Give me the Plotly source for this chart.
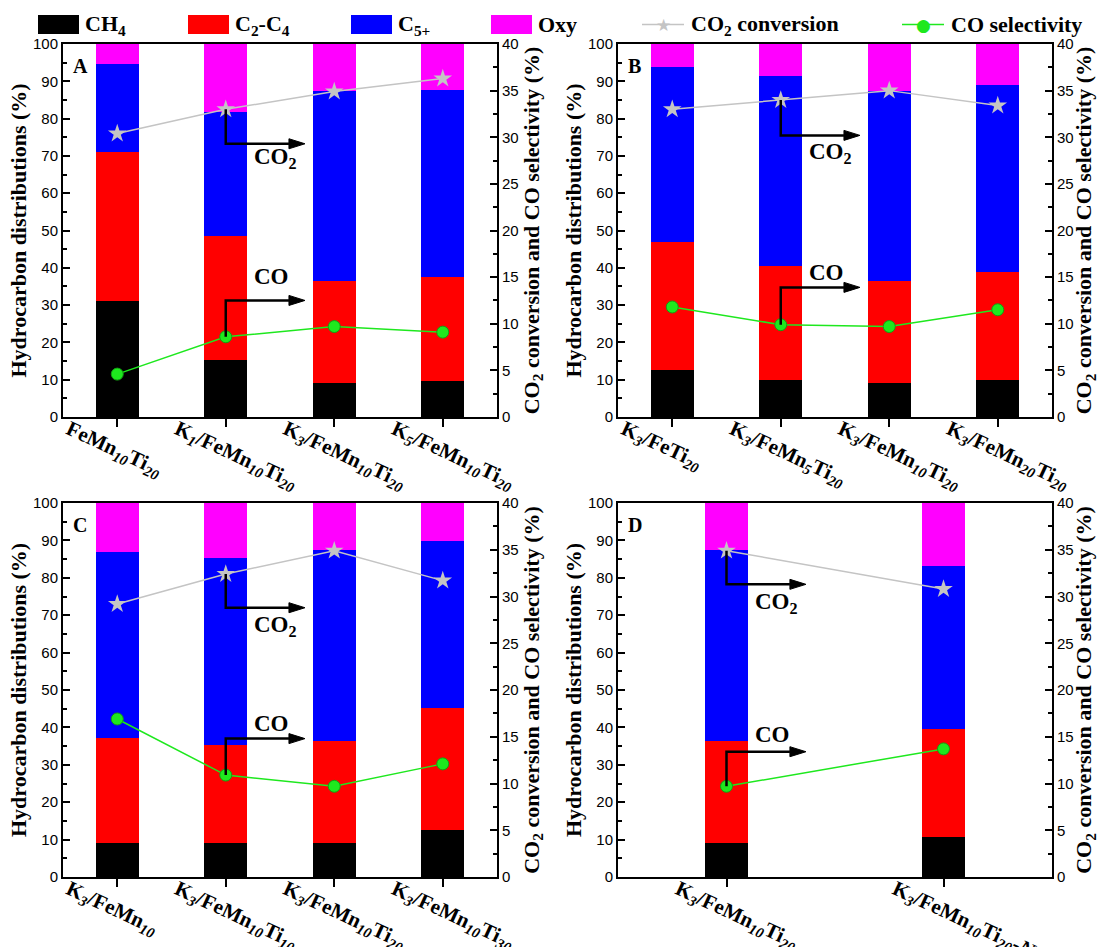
import plotly.graph_objects as go
from plotly.subplots import make_subplots

# ---------------- data ----------------
labels_a = ["FeMn<sub><i>10</i></sub>Ti<sub><i>20</i></sub>",
            "K<sub><i>1</i></sub>/FeMn<sub><i>10</i></sub>Ti<sub><i>20</i></sub>",
            "K<sub><i>3</i></sub>/FeMn<sub><i>10</i></sub>Ti<sub><i>20</i></sub>",
            "K<sub><i>5</i></sub>/FeMn<sub><i>10</i></sub>Ti<sub><i>20</i></sub>"]
ch4_a = [31.2, 15.4, 9.1, 9.6]
c2c4_a = [39.8, 33.0, 27.4, 28.0]
c5_a = [23.6, 33.5, 51.0, 50.1]
oxy_a = [5.4, 18.1, 12.5, 12.3]
co2_conv_a = [30.4, 33.0, 34.9, 36.3]
co_sel_a = [4.6, 8.6, 9.7, 9.1]

labels_b = ["K<sub><i>3</i></sub>/FeTi<sub><i>20</i></sub>",
            "K<sub><i>3</i></sub>/FeMn<sub><i>5</i></sub>Ti<sub><i>20</i></sub>",
            "K<sub><i>3</i></sub>/FeMn<sub><i>10</i></sub>Ti<sub><i>20</i></sub>",
            "K<sub><i>3</i></sub>/FeMn<sub><i>20</i></sub>Ti<sub><i>20</i></sub>"]
ch4_b = [12.5, 10.0, 9.1, 10.0]
c2c4_b = [34.5, 30.5, 27.4, 28.8]
c5_b = [46.9, 50.8, 51.0, 50.2]
oxy_b = [6.1, 8.7, 12.5, 11.0]
co2_conv_b = [33.0, 34.0, 35.0, 33.4]
co_sel_b = [11.8, 9.9, 9.7, 11.5]

labels_c = ["K<sub><i>3</i></sub>/FeMn<sub><i>10</i></sub>",
            "K<sub><i>3</i></sub>/FeMn<sub><i>10</i></sub>Ti<sub><i>10</i></sub>",
            "K<sub><i>3</i></sub>/FeMn<sub><i>10</i></sub>Ti<sub><i>20</i></sub>",
            "K<sub><i>3</i></sub>/FeMn<sub><i>10</i></sub>Ti<sub><i>30</i></sub>"]
ch4_c = [9.2, 9.2, 9.1, 12.5]
c2c4_c = [28.0, 26.2, 27.3, 32.7]
c5_c = [49.8, 49.9, 51.0, 44.6]
oxy_c = [13.0, 14.7, 12.6, 10.2]
co2_conv_c = [29.2, 32.4, 34.9, 31.7]
co_sel_c = [16.9, 10.9, 9.7, 12.1]

labels_d = ["K<sub><i>3</i></sub>/FeMn<sub><i>10</i></sub>Ti<sub><i>20</i></sub>",
            "K<sub><i>3</i></sub>/FeMn<sub><i>10</i></sub>Ti<sub><i>20</i></sub>-<i>N</i>"]
ch4_d = [9.1, 10.6]
c2c4_d = [27.3, 29.1]
c5_d = [51.0, 43.5]
oxy_d = [12.6, 16.8]
co2_conv_d = [34.9, 30.8]
co_sel_d = [9.7, 13.7]

series_names = ["CH<sub>4</sub>", "C<sub>2</sub>-C<sub>4</sub>", "C<sub>5+</sub>", "Oxy"]
series_colors = ["#000000", "#ff0000", "#0000ff", "#ff00ff"]
CONV_COLOR = "#c4c4c4"
SEL_COLOR = "#1ee81e"

# ---------------- layout geometry ----------------
W, H = 1099, 947
col_px = [(63, 497), (618, 1052)]
row_px = [(44, 417), (503, 877)]
SERIF = "Liberation Serif"
SANS = "Liberation Sans"

panels = [
    dict(letter="A", labels=labels_a, stacks=[ch4_a, c2c4_a, c5_a, oxy_a],
         conv=co2_conv_a, sel=co_sel_a, width=0.4, cat=1,
         co2_elbow=29.3, co_elbow=12.5, arrow_end=1.73,
         co2_text=(1.457, 27.8), co_text=(1.418, 15.1)),
    dict(letter="B", labels=labels_b, stacks=[ch4_b, c2c4_b, c5_b, oxy_b],
         conv=co2_conv_b, sel=co_sel_b, width=0.4, cat=1,
         co2_elbow=30.2, co_elbow=13.9, arrow_end=1.73,
         co2_text=(1.46, 28.3), co_text=(1.42, 15.5)),
    dict(letter="C", labels=labels_c, stacks=[ch4_c, c2c4_c, c5_c, oxy_c],
         conv=co2_conv_c, sel=co_sel_c, width=0.4, cat=1,
         co2_elbow=28.8, co_elbow=14.8, arrow_end=1.73,
         co2_text=(1.457, 26.8), co_text=(1.418, 16.4)),
    dict(letter="D", labels=labels_d, stacks=[ch4_d, c2c4_d, c5_d, oxy_d],
         conv=co2_conv_d, sel=co_sel_d, width=0.195, cat=0,
         co2_elbow=31.3, co_elbow=13.4, arrow_end=0.366,
         co2_text=(0.23, 29.3), co_text=(0.21, 15.2)),
]

fig = make_subplots(rows=2, cols=2, specs=[[{"secondary_y": True}] * 2] * 2)

shapes = []
annotations = []

for i, p in enumerate(panels):
    r, c = divmod(i, 2)
    n = len(p["labels"])
    xs = list(range(n))
    for name, color, vals in zip(series_names, series_colors, p["stacks"]):
        fig.add_trace(go.Bar(x=xs, y=vals, name=name, marker_color=color,
                             marker_line_width=0, width=p["width"], showlegend=False),
                      row=r + 1, col=c + 1, secondary_y=False)
    fig.add_trace(go.Scatter(x=xs, y=p["conv"], mode="lines+markers", name="CO<sub>2</sub> conversion",
                             line=dict(color=CONV_COLOR, width=1.5),
                             marker=dict(symbol="star", size=14, color=CONV_COLOR),
                             showlegend=False),
                  row=r + 1, col=c + 1, secondary_y=True)
    fig.add_trace(go.Scatter(x=xs, y=p["sel"], mode="lines+markers", name="CO selectivity",
                             line=dict(color=SEL_COLOR, width=1.5),
                             marker=dict(symbol="circle", size=12, color=SEL_COLOR,
                                         line=dict(color="#12a012", width=1)),
                             showlegend=False),
                  row=r + 1, col=c + 1, secondary_y=True)

    xname = "xaxis" if i == 0 else f"xaxis{i + 1}"
    y1name = "yaxis" if i == 0 else f"yaxis{2 * i + 1}"
    y2name = f"yaxis{2 * i + 2}"
    xref = "x" if i == 0 else f"x{i + 1}"
    yref2 = f"y{2 * i + 2}"

    x0, x1 = col_px[c]
    y0, y1 = row_px[r]
    xdom = [x0 / W, x1 / W]
    ydom = [1 - y1 / H, 1 - y0 / H]

    fig.layout[xname].update(
        domain=xdom, range=[-0.5, n - 0.5], tickmode="array", tickvals=xs, ticktext=p["labels"],
        tickangle=25, ticks="outside", ticklen=8, tickwidth=1.5, tickcolor="black",
        showline=True, linewidth=2, linecolor="black", mirror=True, showgrid=False,
        zeroline=False, automargin=False, ticklabelshift=-48, ticklabelstandoff=-18,
        tickfont=dict(family=SERIF, size=21, color="black", weight="bold"))
    fig.layout[y1name].update(
        domain=ydom, range=[0, 100], tickmode="linear", tick0=0, dtick=10,
        ticks="inside", ticklen=7, tickwidth=1.5, tickcolor="black",
        minor=dict(dtick=5, ticks="inside", ticklen=4, tickwidth=1.5, tickcolor="black"),
        showline=True, linewidth=2, linecolor="black", mirror=True, showgrid=False,
        zeroline=False, automargin=False,
        tickfont=dict(family=SANS, size=15, color="black"),
        title=dict(text="Hydrocarbon distributions (%)", standoff=0,
                   font=dict(family=SERIF, size=22, color="black", weight="bold")))
    fig.layout[y2name].update(
        domain=ydom, range=[0, 40], tickmode="linear", tick0=0, dtick=5,
        ticks="inside", ticklen=7, tickwidth=1.5, tickcolor="black",
        minor=dict(dtick=2.5, ticks="inside", ticklen=4, tickwidth=1.5, tickcolor="black"),
        showline=True, linewidth=2, linecolor="black", showgrid=False,
        zeroline=False, automargin=False,
        tickfont=dict(family=SANS, size=15, color="black"),
        title=dict(text="CO<sub>2</sub> conversion and CO selectivity (%)", standoff=2,
                   font=dict(family=SERIF, size=22, color="black", weight="bold")))

    # panel letter
    annotations.append(dict(text="<b>%s</b>" % p["letter"], xref=f"{xref} domain", yref=f"{yref2} domain",
                            x=0.018, y=0.975, xanchor="left", yanchor="top", showarrow=False,
                            font=dict(family=SERIF, size=20, color="black")))

    # elbow arrows pointing to the right-hand axis
    px_x = n / (x1 - x0)          # x units per pixel
    px_y = 40.0 / (y1 - y0)       # right-axis units per pixel
    head_len = 16 * px_x
    head_half = 5 * px_y
    ax_ = p["cat"]
    for start, elbow in ((p["conv"][ax_], p["co2_elbow"]), (p["sel"][ax_], p["co_elbow"])):
        xe = p["arrow_end"]
        shapes.append(dict(type="path", xref=xref, yref=yref2,
                           path=f"M{ax_},{start} L{ax_},{elbow} L{xe - head_len},{elbow}",
                           line=dict(color="black", width=2.5)))
        shapes.append(dict(type="path", xref=xref, yref=yref2,
                           path=f"M{xe - head_len},{elbow - head_half} L{xe},{elbow} "
                                f"L{xe - head_len},{elbow + head_half} Z",
                           fillcolor="black", line=dict(color="black", width=1)))
    annotations.append(dict(text="<b>CO<sub>2</sub></b>", xref=xref, yref=yref2,
                            x=p["co2_text"][0], y=p["co2_text"][1], showarrow=False,
                            font=dict(family=SERIF, size=23, color="black")))
    annotations.append(dict(text="<b>CO</b>", xref=xref, yref=yref2,
                            x=p["co_text"][0], y=p["co_text"][1], showarrow=False,
                            font=dict(family=SERIF, size=23, color="black")))

# ---------------- legend strip ----------------
leg_y = 1 - 24.5 / H
swatch_x = [38, 188, 351, 491]
for sx, name, color in zip(swatch_x, series_names, series_colors):
    shapes.append(dict(type="rect", xref="paper", yref="paper",
                       x0=sx / W, x1=(sx + 41) / W, y0=1 - 34 / H, y1=1 - 15 / H,
                       fillcolor=color, line=dict(width=0)))
    annotations.append(dict(text="<b>%s</b>" % name, xref="paper", yref="paper",
                            x=(sx + 45) / W, y=leg_y, xanchor="left", yanchor="middle",
                            showarrow=False, font=dict(family=SERIF, size=22, color="black")))

for lx, name, color, glyph, gsize in ((642, "CO<sub>2</sub> conversion", CONV_COLOR, "\u2605", 17),
                                      (902, "CO selectivity", SEL_COLOR, "\u25cf", 17)):
    shapes.append(dict(type="line", xref="paper", yref="paper",
                       x0=lx / W, x1=(lx + 42) / W, y0=leg_y, y1=leg_y,
                       line=dict(color=color, width=1.5)))
    annotations.append(dict(text=glyph, xref="paper", yref="paper", x=(lx + 21) / W, y=leg_y,
                            xanchor="center", yanchor="middle", showarrow=False,
                            font=dict(family="DejaVu Sans", size=gsize, color=color)))
    annotations.append(dict(text="<b>%s</b>" % name, xref="paper", yref="paper",
                            x=(lx + 47) / W, y=leg_y, xanchor="left", yanchor="middle",
                            showarrow=False, font=dict(family=SERIF, size=22, color="black")))

fig.update_layout(
    width=W, height=H, margin=dict(l=0, r=0, t=0, b=0),
    barmode="stack", bargap=0,
    paper_bgcolor="white", plot_bgcolor="white",
    showlegend=False, shapes=shapes, annotations=annotations,
)

fig.write_html("out.html")
